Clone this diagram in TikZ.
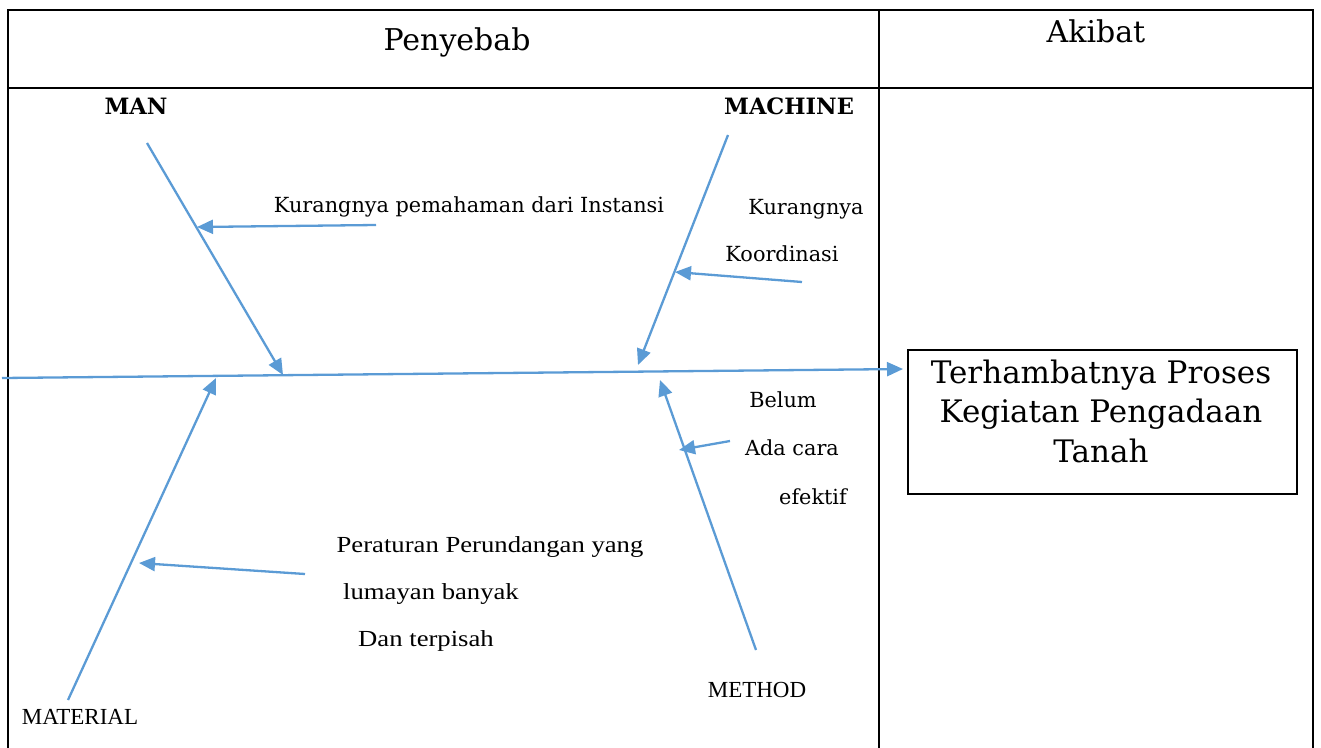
\documentclass[tikz,border=0pt]{standalone}
\usepackage{fontspec}
\setmainfont{DejaVu Serif}
\newfontfamily\tms{Liberation Serif}
\usetikzlibrary{arrows.meta}
\definecolor{bone}{HTML}{5B9BD5}
\newcommand\widetxt[1]{\scalebox{1.16}[1]{#1}}
\tikzset{
  grid/.style={line width=2pt, black},
  bonel/.style={line width=2.3pt, bone, -{Triangle[length=16pt,width=14pt]}},
  lbl/.style={inner sep=0pt, font=\fontsize{20.8}{24}\selectfont},
  tlbl/.style={inner sep=0pt, font=\tms\fontsize{23}{26}\selectfont},
  head/.style={inner sep=0pt, font=\bfseries\fontsize{22.5}{26}\selectfont},
  title/.style={inner sep=0pt, font=\fontsize{30}{34}\selectfont},
}
\begin{document}
\begin{tikzpicture}[x=1pt,y=-1pt]
\useasboundingbox (0,0) rectangle (1321,747);
% table
\draw[grid] (8,760) -- (8,10) -- (1313,10) -- (1313,760);
\draw[grid] (8,88) -- (1313,88);
\draw[grid] (879,10) -- (879,760);
\node[title] (pen) at (457,42) {Penyebab};
\node[title] (aki) at (1096,31) {Akibat};
% result
\node[draw=black, line width=1.6pt, minimum width=389pt, minimum height=144pt, anchor=north west, inner sep=0pt] (res) at (907,349) {};
\node[inner sep=0pt, align=center, font=\fontsize{31}{39.5}\selectfont] (restext) at (1101,411) {Terhambatnya Proses\\Kegiatan Pengadaan\\Tanah};
% headings
\node[head] (man) at (136,106) {MAN};
\node[head] (mac) at (789,106) {MACHINE};
\node[tlbl] (met) at (757,690) {METHOD};
\node[tlbl] (mat) at (80,717) {MATERIAL};
% cause texts
\node[lbl] (c1) at (469,207) {Kurangnya pemahaman dari Instansi};
\node[lbl] (c2a) at (806,209) {Kurangnya};
\node[lbl] (c2b) at (782,254) {Koordinasi};
\node[lbl] (c3a) at (783,400) {Belum};
\node[lbl] (c3b) at (792,448) {Ada cara};
\node[lbl] (c3c) at (813,497) {efektif};
\node[tlbl] (c4a) at (490,547) {\widetxt{Peraturan Perundangan yang}};
\node[tlbl] (c4b) at (431,594) {\widetxt{lumayan banyak}};
\node[tlbl] (c4c) at (426,641) {\widetxt{Dan terpisah}};
% coordinates
\coordinate (sp0) at (2,378);
\coordinate (spE) at (903,369);
\coordinate (manS) at (147,143);
\coordinate (manE) at (283,375);
\coordinate (macS) at (728,135);
\coordinate (macE) at (638,365);
\coordinate (metS) at (756,650);
\coordinate (metE) at (660,380);
\coordinate (matS) at (68,700);
\coordinate (matE) at (216,378);
\coordinate (a1S) at (376,225);
\coordinate (a1E) at (197,227);
\coordinate (a2S) at (802,282);
\coordinate (a2E) at (675,272);
\coordinate (a3S) at (730,441);
\coordinate (a3E) at (679,450);
\coordinate (a4S) at (305,574);
\coordinate (a4E) at (139,563);
% bones
\draw[bonel] (sp0) -- (spE);
\draw[bonel] (manS) -- (manE);
\draw[bonel] (macS) -- (macE);
\draw[bonel] (metS) -- (metE);
\draw[bonel] (matS) -- (matE);
\draw[bonel] (a1S) -- (a1E);
\draw[bonel] (a2S) -- (a2E);
\draw[bonel] (a3S) -- (a3E);
\draw[bonel] (a4S) -- (a4E);
\end{tikzpicture}
\end{document}
